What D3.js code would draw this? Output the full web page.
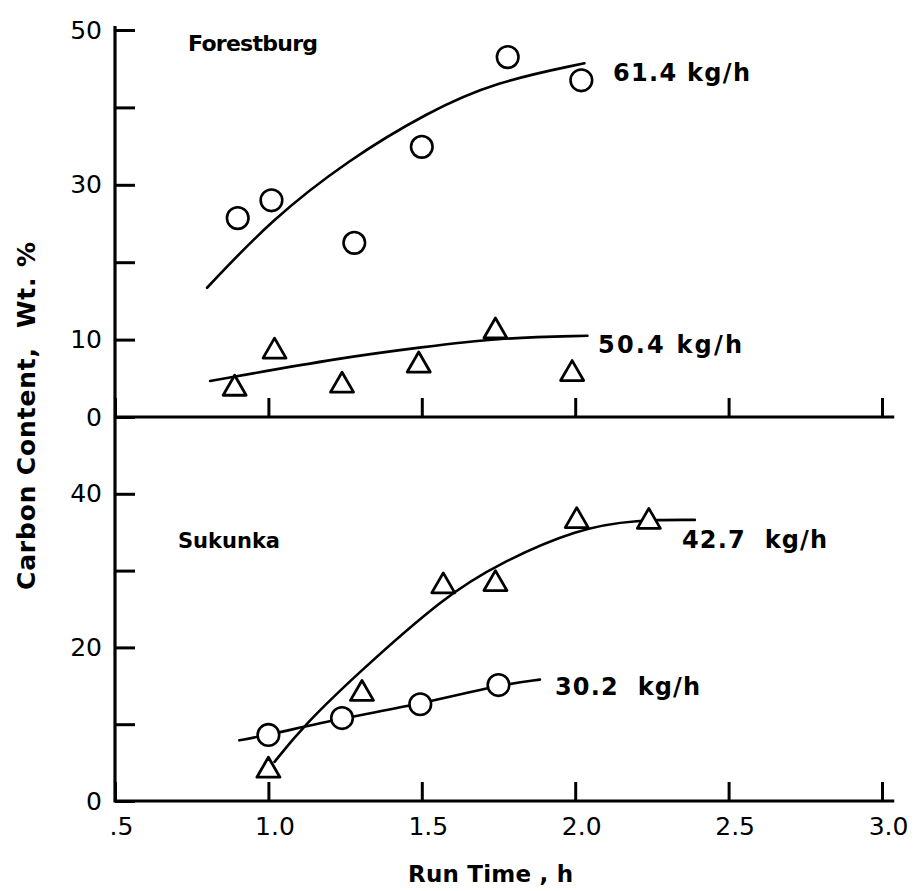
<!DOCTYPE html>
<html>
<head>
<meta charset="utf-8">
<script src="https://cdn.jsdelivr.net/npm/d3@7"></script>
<style>
  html, body { margin: 0; padding: 0; background: #fff; }
  svg { display: block; }
  .tick text { font-family: "DejaVu Sans", sans-serif; font-size: 25px; fill: #000; }
  .lbl { font-family: "DejaVu Sans", sans-serif; font-weight: bold; fill: #000; }
</style>
</head>
<body>
<svg id="chart" width="920" height="891"></svg>
<script>
// ---------- data ----------
const xTickVals = [0.5, 1.0, 1.5, 2.0, 2.5, 3.0];
const xTickLabels = [".5", "1.0", "1.5", "2.0", "2.5", "3.0"];
const topYTicks = [0, 10, 20, 30, 40, 50];
const topYLabels = ["0", "10", "", "30", "", "50"];
const botYTicks = [0, 10, 20, 30, 40];
const botYLabels = ["0", "", "20", "", "40"];

// Forestburg, 61.4 kg/h (circles)
const forest614X = [0.90, 1.01, 1.28, 1.50, 1.78, 2.02];
const forest614Y = [25.7, 28.0, 22.5, 34.9, 46.5, 43.5];
const forest614FitX = [0.80, 1.01, 1.26, 1.52, 1.74, 2.03];
const forest614FitY = [16.7, 25.5, 33.2, 39.4, 43.3, 45.7];
// Forestburg, 50.4 kg/h (triangles)
const forest504X = [0.89, 1.02, 1.24, 1.49, 1.74, 1.99];
const forest504Y = [4.1, 8.9, 4.5, 7.1, 11.5, 6.0];
const forest504FitX = [0.81, 1.25, 1.50, 1.74, 2.04];
const forest504FitY = [4.65, 7.75, 9.0, 10.2, 10.5];
// Sukunka, 42.7 kg/h (triangles)
const suk427X = [1.00, 1.305, 1.57, 1.74, 2.005, 2.24];
const suk427Y = [4.4, 14.4, 28.4, 28.7, 36.9, 36.8];
const suk427FitX = [1.02, 1.11, 1.29, 1.58, 1.75, 2.01, 2.20, 2.39];
const suk427FitY = [5.1, 9.6, 16.6, 26.8, 30.9, 35.5, 36.6, 36.6];
// Sukunka, 30.2 kg/h (circles)
const suk302X = [1.00, 1.24, 1.495, 1.75];
const suk302Y = [8.6, 10.8, 12.6, 15.1];
const suk302FitX = [0.905, 1.00, 1.24, 1.495, 1.75, 1.885];
const suk302FitY = [7.9, 8.6, 10.8, 12.6, 15.1, 15.8];

const panelNames = ["Forestburg", "Sukunka"];
const seriesLabels = ["61.4 kg/h", "50.4 kg/h", "42.7  kg/h", "30.2  kg/h"];
const xTitle = "Run Time , h";
const yTitle = "Carbon Content,  Wt. %";

// ---------- layout ----------
const svg = d3.select("#chart");
const x = d3.scaleLinear().domain([0.5, 3.0]).range([115, 882]);
const yTop = d3.scaleLinear().domain([0, 50]).range([417, 30]);
const yBot = d3.scaleLinear().domain([0, 50]).range([801, 417]);

const zip = (a, b) => a.map((v, i) => [v, b[i]]);

// axes
function yAxis(scale, ticks, labels) {
  const g = svg.append("g").attr("transform", "translate(115,0)")
    .call(d3.axisLeft(scale).tickValues(ticks)
      .tickFormat((d, i) => labels[i]).tickSize(-20).tickSizeOuter(0).tickPadding(13));
  g.select(".domain").remove();
  g.selectAll(".tick line").attr("stroke", "#000").attr("stroke-width", 3);
  return g;
}
yAxis(yTop, topYTicks, topYLabels);
yAxis(yBot, botYTicks, botYLabels);

function xAxis(yPos, withLabels) {
  const g = svg.append("g").attr("transform", `translate(0,${yPos})`)
    .call(d3.axisBottom(x).tickValues(xTickVals)
      .tickFormat((d, i) => withLabels ? xTickLabels[i] : "")
      .tickSize(-19).tickSizeOuter(0).tickPadding(16));
  g.select(".domain").remove();
  g.selectAll(".tick line").attr("stroke", "#000").attr("stroke-width", 3);
  g.selectAll(".tick text").attr("dx", 6);
  return g;
}
xAxis(yTop(0), false);
xAxis(yBot(0), true);

// axis lines
svg.append("line").attr("x1", x(0.5)).attr("x2", x(0.5))
  .attr("y1", yTop(50) - 4).attr("y2", yBot(0) + 1.5)
  .attr("stroke", "#000").attr("stroke-width", 3.2);
[yTop(0), yBot(0)].forEach(yy => {
  svg.append("line").attr("x1", x(0.5)).attr("x2", x(3.04))
    .attr("y1", yy).attr("y2", yy)
    .attr("stroke", "#000").attr("stroke-width", 3.2);
});

// curves (smoothed through the points)
function curve(xs, ys, yScale) {
  const line = d3.line().x(d => x(d[0])).y(d => yScale(d[1])).curve(d3.curveBasis);
  svg.append("path").attr("d", line(zip(xs, ys)))
    .attr("fill", "none").attr("stroke", "#000").attr("stroke-width", 2.6)
    .attr("stroke-linecap", "round");
}
curve(forest614FitX, forest614FitY, yTop);
curve(forest504FitX, forest504FitY, yTop);
curve(suk427FitX, suk427FitY, yBot);
curve(suk302FitX, suk302FitY, yBot);

// markers
function circles(xs, ys, yScale) {
  svg.append("g").selectAll("circle").data(zip(xs, ys)).join("circle")
    .attr("cx", d => x(d[0])).attr("cy", d => yScale(d[1])).attr("r", 10.8)
    .attr("fill", "#fff").attr("stroke", "#000").attr("stroke-width", 2.6);
}
const triSize = 230;
const triOff = Math.sqrt(triSize / (Math.sqrt(3) * 3)) / 2; // centre bbox on point
function triangles(xs, ys, yScale) {
  svg.append("g").selectAll("path").data(zip(xs, ys)).join("path")
    .attr("d", d3.symbol(d3.symbolTriangle, triSize)())
    .attr("transform", d => `translate(${x(d[0])},${yScale(d[1]) + triOff})`)
    .attr("fill", "#fff").attr("stroke", "#000").attr("stroke-width", 2.8)
    .attr("stroke-linejoin", "round");
}
circles(forest614X, forest614Y, yTop);
triangles(forest504X, forest504Y, yTop);
triangles(suk427X, suk427Y, yBot);
circles(suk302X, suk302Y, yBot);

// text labels
function label(txt, px, py, size, len) {
  const t = svg.append("text").attr("class", "lbl")
    .attr("x", px).attr("y", py).attr("font-size", size)
    .style("white-space", "pre").text(txt);
  if (len) t.attr("textLength", len).attr("lengthAdjust", "spacing");
  return t;
}
label(panelNames[0], 188, 51, 22, 130);
label(panelNames[1], 178, 548, 21, 102);
label(seriesLabels[0], 613, 81, 24, 137);
label(seriesLabels[1], 598, 353, 24, 144);
label(seriesLabels[2], 682, 548, 24, 145);
label(seriesLabels[3], 555, 695, 24, 145);

label(xTitle, 408, 882, 23, 165);
svg.append("text").attr("class", "lbl")
  .attr("transform", "translate(35,416) rotate(-90)")
  .attr("text-anchor", "middle").attr("font-size", 25)
  .style("white-space", "pre")
  .attr("textLength", 348).attr("lengthAdjust", "spacing")
  .text(yTitle);
</script>
</body>
</html>
